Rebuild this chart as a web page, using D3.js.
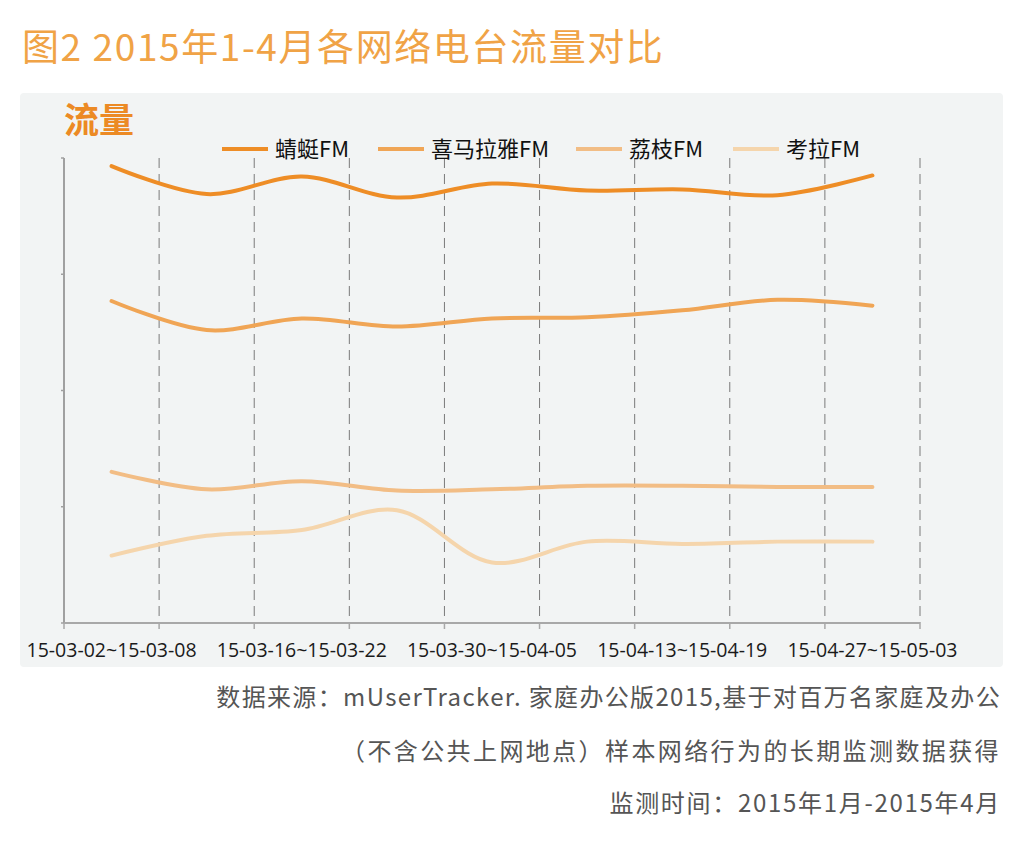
<!DOCTYPE html>
<html>
<head>
<meta charset="utf-8">
<script src="https://cdn.jsdelivr.net/npm/d3@7"></script>
<style>
  body { margin: 0; background: #fff; }
  svg { display: block; }
</style>
</head>
<body>
<svg id="chart" width="1028" height="864"></svg>
<script>
// weekly categories (only every second one is labelled)
const weeks = [
    "15-03-02~15-03-08", "15-03-09~15-03-15", "15-03-16~15-03-22",
    "15-03-23~15-03-29", "15-03-30~15-04-05", "15-04-06~15-04-12",
    "15-04-13~15-04-19", "15-04-20~15-04-26", "15-04-27~15-05-03"
];
const seriesNames = ["蜻蜓FM", "喜马拉雅FM", "荔枝FM", "考拉FM"];
const qingting = [393, 369, 384, 366, 378, 372, 373, 368, 385];
const ximalaya = [277, 252, 262, 255, 262, 263, 269, 278, 273];
const lizhi = [130, 115, 122, 114, 115, 118, 118, 117, 117];
const kaola = [58, 75, 80, 97, 52, 70, 68, 70, 70];
const yTicks = [0, 100, 200, 300, 400];

const footerLines = [
    "数据来源：mUserTracker. 家庭办公版2015,基于对百万名家庭及办公",
    "（不含公共上网地点）样本网络行为的长期监测数据获得",
    "监测时间：2015年1月-2015年4月"
];

const colors = ["#ee8d26", "#f0a555", "#f2bd85", "#f5d5ac"];
const allSeries = [qingting, ximalaya, lizhi, kaola];

const svg = d3.select("#chart");
const font = "'Noto Sans CJK SC', 'Noto Sans', sans-serif";

// title
svg.append("text")
    .attr("x", 22)
    .attr("y", 61)
    .style("font-family", font)
    .style("font-size", "37px")
    .style("letter-spacing", "1.6px")
    .style("fill", "#f0a346")
    .text("图2 2015年1-4月各网络电台流量对比");

// panel
svg.append("rect")
    .attr("x", 20)
    .attr("y", 93)
    .attr("width", 983)
    .attr("height", 574)
    .attr("rx", 4)
    .style("fill", "#f2f4f4");

svg.append("text")
    .attr("x", 64)
    .attr("y", 133)
    .style("font-family", font)
    .style("font-size", "35px")
    .style("font-weight", "bold")
    .style("fill", "#ec8a24")
    .text("流量");

const plotLeft = 64, plotRight = 920, plotTop = 158, plotBottom = 623;

const x = d3.scaleBand().domain(weeks).range([plotLeft, plotRight]).padding(0);
const y = d3.scaleLinear().domain([0, 400]).range([plotBottom, plotTop]);

// dashed vertical grid at band boundaries
const boundaries = weeks.map(w => x(w) + x.bandwidth());
svg.append("g")
    .selectAll("line")
    .data(boundaries)
    .enter().append("line")
    .attr("x1", d => d)
    .attr("x2", d => d)
    .attr("y1", plotTop)
    .attr("y2", plotBottom)
    .style("stroke", "#7a7a7a")
    .style("stroke-width", 1)
    .style("stroke-dasharray", "10,6");

// y axis
svg.append("line")
    .attr("x1", plotLeft).attr("x2", plotLeft)
    .attr("y1", plotTop).attr("y2", plotBottom)
    .style("stroke", "#a0a0a0")
    .style("stroke-width", 2);
svg.append("g")
    .selectAll("line")
    .data(yTicks)
    .enter().append("line")
    .attr("x1", plotLeft - 3).attr("x2", plotLeft)
    .attr("y1", d => y(d)).attr("y2", d => y(d))
    .style("stroke", "#a0a0a0")
    .style("stroke-width", 1.5);

// x axis
svg.append("line")
    .attr("x1", plotLeft).attr("x2", plotRight)
    .attr("y1", plotBottom).attr("y2", plotBottom)
    .style("stroke", "#a8a8a8")
    .style("stroke-width", 2);
svg.append("g")
    .selectAll("line")
    .data([plotLeft].concat(boundaries))
    .enter().append("line")
    .attr("x1", d => d).attr("x2", d => d)
    .attr("y1", plotBottom).attr("y2", plotBottom + 6)
    .style("stroke", "#a8a8a8")
    .style("stroke-width", 1.5);

svg.append("g")
    .selectAll("text")
    .data(weeks.filter((d, i) => i % 2 == 0))
    .enter().append("text")
    .attr("x", d => x(d) + x.bandwidth() / 2)
    .attr("y", 657)
    .attr("text-anchor", "middle")
    .style("font-family", "'Open Sans', sans-serif")
    .style("font-size", "19.5px")
    .style("fill", "#1a1a1a")
    .text(d => d);

// lines
const line = d3.line()
    .x((d, i) => x(weeks[i]) + x.bandwidth() / 2)
    .y(d => y(d))
    .curve(d3.curveCatmullRom.alpha(0.5));

svg.append("g")
    .selectAll("path")
    .data(allSeries)
    .enter().append("path")
    .attr("d", line)
    .style("fill", "none")
    .style("stroke", (d, i) => colors[i])
    .style("stroke-width", 4)
    .style("stroke-linecap", "round");

// legend
const legendX = [222, 378, 576, 733];
const legend = svg.append("g")
    .selectAll("g")
    .data(seriesNames)
    .enter().append("g")
    .attr("transform", (d, i) => "translate(" + legendX[i] + ",149)");
legend.append("line")
    .attr("x1", 0).attr("x2", 46)
    .attr("y1", 0).attr("y2", 0)
    .style("stroke", (d, i) => colors[i])
    .style("stroke-width", 4);
legend.append("text")
    .attr("x", 53)
    .attr("y", 8)
    .style("font-family", font)
    .style("font-size", "22px")
    .style("fill", "#111")
    .text(d => d);

// footer notes
const footerSpacing = [1.35, 2.4, 1.7];
svg.append("g")
    .selectAll("text")
    .data(footerLines)
    .enter().append("text")
    .attr("x", 1001)
    .attr("y", (d, i) => [706, 760, 812][i])
    .attr("text-anchor", "end")
    .style("font-family", font)
    .style("font-size", "24px")
    .style("letter-spacing", (d, i) => footerSpacing[i] + "px")
    .style("fill", "#555")
    .text(d => d);
</script>
</body>
</html>
